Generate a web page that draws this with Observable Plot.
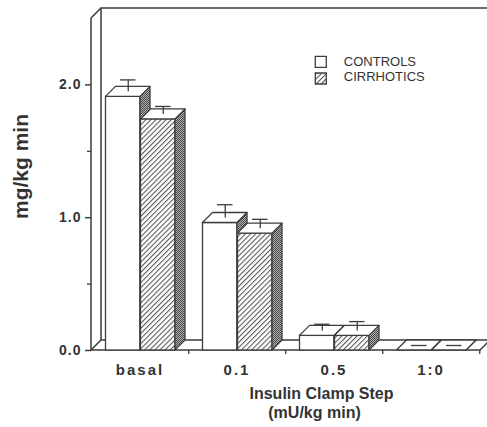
<!DOCTYPE html>
<html><head><meta charset="utf-8">
<script src="https://cdn.jsdelivr.net/npm/d3@7"></script>
<script src="https://cdn.jsdelivr.net/npm/@observablehq/plot@0.6"></script>
<style>
body{margin:0;background:#fff}
g[aria-label="x-axis tick label"] text{letter-spacing:2px}
g[aria-label="y-axis tick label"] text{letter-spacing:1px}
g[aria-label="xtitle"] text{letter-spacing:1.4px}
g[aria-label="ytitle"] text{letter-spacing:1.3px}
g[aria-label="legend text"] text{letter-spacing:1px}
</style>
</head><body><div id="chart"></div>
<script>
// ---- data ----
const steps = ["basal", "0.1", "0.5", "1:0"];
const groups = ["CONTROLS", "CIRRHOTICS"];
const controls = [1.91, 0.96, 0.11, 0];
const controlsSE = [0.09, 0.10, 0.05, 0];
const cirrhotics = [1.74, 0.88, 0.11, 0];
const cirrhoticsSE = [0.06, 0.07, 0.07, 0];
const yMajorTicks = [0, 1, 2];
const yMinorTicks = [0.5, 1.5];
const yMax = 2.5;
const xTitle = ["Insulin Clamp Step", "(mU/kg min)"];
const yTitle = "mg/kg min";

const ctrlRows = steps.map((s, i) => ({step: s, group: groups[0], value: controls[i], se: controlsSE[i]}));
const cirrRows = steps.map((s, i) => ({step: s, group: groups[1], value: cirrhotics[i], se: cirrhoticsSE[i]}));

const INK = "#3d3d3d";
const TXT = "#333";
const DX = 10, DY = -10;

// 3-D box: front face drawn by Plot's barY, side and top faces added from the same scaled channels
function box3d(data, fill, inL, inR) {
  return Plot.barY(data, {
    x: "step", y: "value", fill, stroke: INK, strokeWidth: 1.3,
    insetLeft: inL, insetRight: inR,
    render(index, scales, values, dims, context, next) {
      const g = next(index, scales, values, dims, context);
      const bw = scales.x.bandwidth();
      const sel = d3.select(g);
      for (const i of index) {
        const x0 = values.x[i] + inL, x1 = values.x[i] + bw - inR;
        const yt = Math.min(values.y1[i], values.y2[i]), yb = Math.max(values.y1[i], values.y2[i]);
        sel.append("path")
          .attr("d", `M${x1},${yb}L${x1 + DX},${yb + DY}L${x1 + DX},${yt + DY}L${x1},${yt}Z`)
          .attr("fill", "url(#stip)").attr("stroke", INK).attr("stroke-linejoin", "round");
        sel.append("path")
          .attr("d", `M${x0},${yt}L${x0 + DX},${yt + DY}L${x1 + DX},${yt + DY}L${x1},${yt}Z`)
          .attr("fill", "#fff").attr("stroke", INK).attr("stroke-linejoin", "round");
      }
      return g;
    }
  });
}

// walls and floor, positioned from the scales
function frame3d(index, {x, y}, values, dims) {
  const [xa, xb] = x.range();
  const y0 = y(0), yt = y(yMax);
  const ax = xa + 1;
  const g = d3.create("svg:g").attr("fill", "none").attr("stroke", INK).attr("stroke-width", 1.5);
  g.append("path").attr("fill", "#fff")
    .attr("d", `M${ax},${y0}L${xb},${y0}L${xb + DX},${y0 + DY}L${ax + DX},${y0 + DY}Z`);
  g.append("path").attr("d", `M${ax + DX},${y0 + DY}V${yt + DY}H${dims.width + 20}`);
  g.append("path").attr("d", `M${ax},${y0}V${yt}L${ax + DX},${yt + DY}`);
  return g.node();
}

const svg = Plot.plot({
  width: 487, height: 427,
  marginLeft: 91, marginRight: 7, marginTop: 18, marginBottom: 77,
  style: {fontFamily: "'Liberation Sans', Arial, sans-serif", background: "#fff", color: TXT},
  x: {type: "band", domain: steps, range: [90, 480], padding: 0},
  y: {domain: [0, yMax], range: [350, 18]},
  marks: [
    frame3d,
    Plot.axisY({ticks: yMajorTicks, tickSize: 6, tickPadding: 4, tickFormat: d => d.toFixed(1),
      fontSize: 14, fontWeight: "bold", label: null, stroke: INK, strokeWidth: 1.5, color: TXT}),
    Plot.axisY({ticks: yMinorTicks, tickSize: 4, tickFormat: () => "", label: null, stroke: INK, strokeWidth: 1.3}),
    Plot.axisX({tickSize: 4, tickFormat: () => "", dx: 48.75, label: null, stroke: INK, strokeWidth: 1.3}),
    Plot.axisX({tickSize: 0, tickPadding: 13.5, fontSize: 15, fontWeight: "bold", label: null, color: TXT}),
    box3d(ctrlRows, "#fff", 14.5, 48),
    box3d(cirrRows, "url(#hatch)", 49.5, 13),
    Plot.ruleX(ctrlRows, {x: "step", y1: "value", y2: d => d.value + d.se, dx: -11.75, dy: -5, stroke: INK, strokeWidth: 1.3}),
    Plot.tickY(ctrlRows, {x: "step", y: d => d.value + d.se, insetLeft: 29, insetRight: 52.5, dy: -5, stroke: INK, strokeWidth: 1.3}),
    Plot.ruleX(cirrRows, {x: "step", y1: "value", y2: d => d.value + d.se, dx: 23.25, dy: -5, stroke: INK, strokeWidth: 1.3}),
    Plot.tickY(cirrRows, {x: "step", y: d => d.value + d.se, insetLeft: 64, insetRight: 17.5, dy: -5, stroke: INK, strokeWidth: 1.3}),
    // legend
    Plot.dot([groups[0]], {frameAnchor: "top-left", dx: 229.3, dy: 43.3, symbol: "square", r: 6.2, fill: "#fff", stroke: INK, strokeWidth: 1.3}),
    Plot.dot([groups[1]], {frameAnchor: "top-left", dx: 229.3, dy: 60, symbol: "square", r: 6.2, fill: "url(#hatch)", stroke: INK, strokeWidth: 1.3}),
    Plot.text([groups[0]], {frameAnchor: "top-left", dx: 252.3, dy: 43.2, text: d => d, textAnchor: "start", lineAnchor: "middle", fontSize: 13, fill: TXT, ariaLabel: "legend text"}),
    Plot.text([groups[1]], {frameAnchor: "top-left", dx: 252.3, dy: 58.8, text: d => d, textAnchor: "start", lineAnchor: "middle", fontSize: 13, fill: TXT, ariaLabel: "legend text"}),
    // titles
    Plot.text([xTitle[0]], {frameAnchor: "bottom", dx: 35.5, dy: 43.5, text: d => d, textAnchor: "middle", lineAnchor: "middle", fontSize: 16, fontWeight: "bold", fill: TXT, ariaLabel: "xtitle"}),
    Plot.text([xTitle[1]], {frameAnchor: "bottom", dx: 28.5, dy: 62.5, text: d => d, textAnchor: "middle", lineAnchor: "middle", fontSize: 16, fontWeight: "bold", fill: TXT, ariaLabel: "xtitle"}),
    Plot.text([yTitle], {frameAnchor: "left", dx: -70, dy: -18, rotate: -90, text: d => d, textAnchor: "middle", lineAnchor: "middle", fontSize: 21, fontWeight: "bold", fill: TXT, ariaLabel: "ytitle"})
  ]
});

d3.select(svg).insert("defs", ":first-child").html(`
  <pattern id="hatch" width="3.6" height="3.6" patternUnits="userSpaceOnUse" patternTransform="rotate(45)">
    <rect width="3.6" height="3.6" fill="#fff"/>
    <line x1="0.5" y1="0" x2="0.5" y2="3.6" stroke="#555" stroke-width="1.1"/>
  </pattern>
  <pattern id="stip" width="2" height="2" patternUnits="userSpaceOnUse">
    <rect width="2" height="2" fill="#b4b4b4"/>
    <rect width="1" height="1" fill="#444"/>
    <rect x="1" y="1" width="1" height="1" fill="#444"/>
  </pattern>`);

document.getElementById("chart").appendChild(svg);
</script>
</body></html>
